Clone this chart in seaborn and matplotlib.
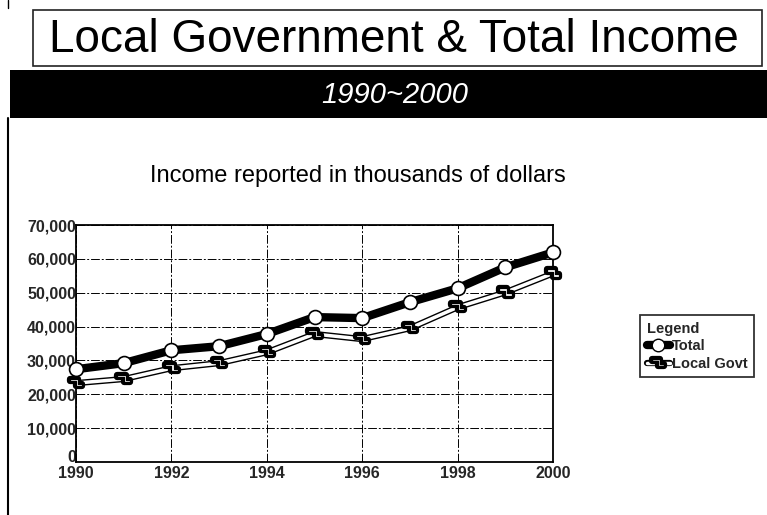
import numpy as np
import pandas as pd
import matplotlib
matplotlib.use("Agg")
import matplotlib.pyplot as plt
import matplotlib.patheffects as pe
import matplotlib.transforms as mtransforms
from matplotlib.path import Path
from matplotlib.patches import Rectangle
from matplotlib.lines import Line2D
import seaborn as sns

years = [1990, 1991, 1992, 1993, 1994, 1995, 1996, 1997, 1998, 1999, 2000]
total = [27400, 29200, 33000, 34200, 37800, 42800, 42500, 47200, 51300, 57500, 61900]
local_govt = [23300, 24500, 27700, 29200, 32400, 37800, 36300, 39500, 45700, 50100, 55700]
series_names = ["Total", "Local Govt"]
y_ticks = [0, 10000, 20000, 30000, 40000, 50000, 60000, 70000]
y_labels = ["0", "10,000", "20,000", "30,000", "40,000", "50,000", "60,000", "70,000"]
x_ticks = [1990, 1992, 1994, 1996, 1998, 2000]

df = pd.DataFrame({
    "Year": years * 2,
    "Income": total + local_govt,
    "Series": [series_names[0]] * len(years) + [series_names[1]] * len(years),
})

sns.set_theme(style="white")
plt.rcParams["font.family"] = ["Liberation Sans", "DejaVu Sans"]

fig = plt.figure(figsize=(7.67, 5.15), dpi=100)
W, H = 767, 515

def fx(px):
    return px / W

def fy(py):
    return 1 - py / H

# Title box
fig.patches.append(Rectangle((fx(33), fy(66)), fx(762) - fx(33), fy(10) - fy(66),
                             transform=fig.transFigure, facecolor="white",
                             edgecolor="#222222", linewidth=1.2))
fig.text(fx(394), fy(40), "Local Government & Total Income", ha="center", va="center",
         fontsize=33, color="black")
# Black band
fig.patches.append(Rectangle((fx(10), fy(118)), 1 - fx(10), fy(70) - fy(118),
                             transform=fig.transFigure, facecolor="black",
                             edgecolor="none"))
fig.text(fx(395), fy(95), "1990~2000", ha="center", va="center",
         fontsize=21, style="italic", color="white")
# left border line
fig.lines.append(Line2D([fx(8), fx(8)], [fy(118), 0], transform=fig.transFigure,
                        color="black", linewidth=1.5))
fig.lines.append(Line2D([fx(8), fx(8)], [fy(8), 1], transform=fig.transFigure,
                        color="black", linewidth=1.0))
# subtitle
fig.text(fx(358), fy(176), "Income reported in thousands of dollars", ha="center",
         va="center", fontsize=17, color="black")

ax = fig.add_axes([fx(76), fy(462), fx(553) - fx(76), fy(225) - fy(462)])

step_marker = Path([(-1.0, 0.3), (0.0, 0.3), (0.0, -0.5), (1.0, -0.5),
                    (1.0, -0.15), (0.35, -0.15), (0.35, 0.65), (-1.0, 0.65), (-1.0, 0.3)],
                   [Path.MOVETO] + [Path.LINETO] * 7 + [Path.CLOSEPOLY])

d_local = df[df["Series"] == "Local Govt"]
d_total = df[df["Series"] == "Total"]

sns.lineplot(data=d_local, x="Year", y="Income", ax=ax, color="white", linewidth=2.5,
             marker=step_marker, markersize=9, markerfacecolor="white",
             markeredgecolor="black", markeredgewidth=0.9, zorder=3, clip_on=False,
             path_effects=[pe.Stroke(linewidth=4.5, foreground="black"), pe.Normal()],
             label="Local Govt", legend=False)
sns.lineplot(data=d_total, x="Year", y="Income", ax=ax, color="black", linewidth=6,
             marker="o", markersize=10, markerfacecolor="white",
             markeredgecolor="black", markeredgewidth=1.2, zorder=4, clip_on=False,
             label="Total", legend=False)

ax.set_xlim(1990, 2000)
ax.set_ylim(0, 70000)
ax.set_xticks(x_ticks)
ax.set_xticklabels([str(t) for t in x_ticks], fontweight="bold", fontsize=11.5)
ax.set_yticks(y_ticks)
ax.set_yticklabels(y_labels, fontweight="bold", fontsize=11.5)
ax.tick_params(axis="y", length=0, pad=0)
ax.tick_params(axis="x", length=0, pad=3)
# nudge the "0" label up a little, as in the reference
zero_lbl = ax.get_yticklabels()[0]
zero_lbl.set_transform(zero_lbl.get_transform() +
                       mtransforms.ScaledTranslation(0, 6 / 100, fig.dpi_scale_trans))
ax.set_xlabel("")
ax.set_ylabel("")
ax.grid(True, color="black", linestyle=(0, (9, 2, 2, 2)), linewidth=0.7)
ax.set_axisbelow(True)
for s in ax.spines.values():
    s.set_color("black")
    s.set_linewidth(1.3)

# Legend
handles = [
    Line2D([], [], color="black", linewidth=6, marker="o", markersize=9,
           markerfacecolor="white", markeredgecolor="black"),
    Line2D([], [], color="white", linewidth=2.5, marker=step_marker, markersize=9,
           markerfacecolor="white", markeredgecolor="black",
           path_effects=[pe.Stroke(linewidth=4.5, foreground="black"), pe.Normal()]),
]
leg = fig.legend(handles, series_names, title="Legend", loc="upper left",
                 bbox_to_anchor=(fx(640), fy(315)), frameon=True, fancybox=False,
                 prop={"weight": "bold", "size": 10.5}, handlelength=1.6,
                 handletextpad=0.15, borderpad=0.45, labelspacing=0.25,
                 borderaxespad=0)
leg.get_title().set_fontweight("bold")
leg.get_title().set_fontsize(10.5)
leg._legend_box.align = "left"
leg.get_frame().set_edgecolor("black")
leg.get_frame().set_linewidth(1.3)

fig.savefig("out.png", dpi=100)
